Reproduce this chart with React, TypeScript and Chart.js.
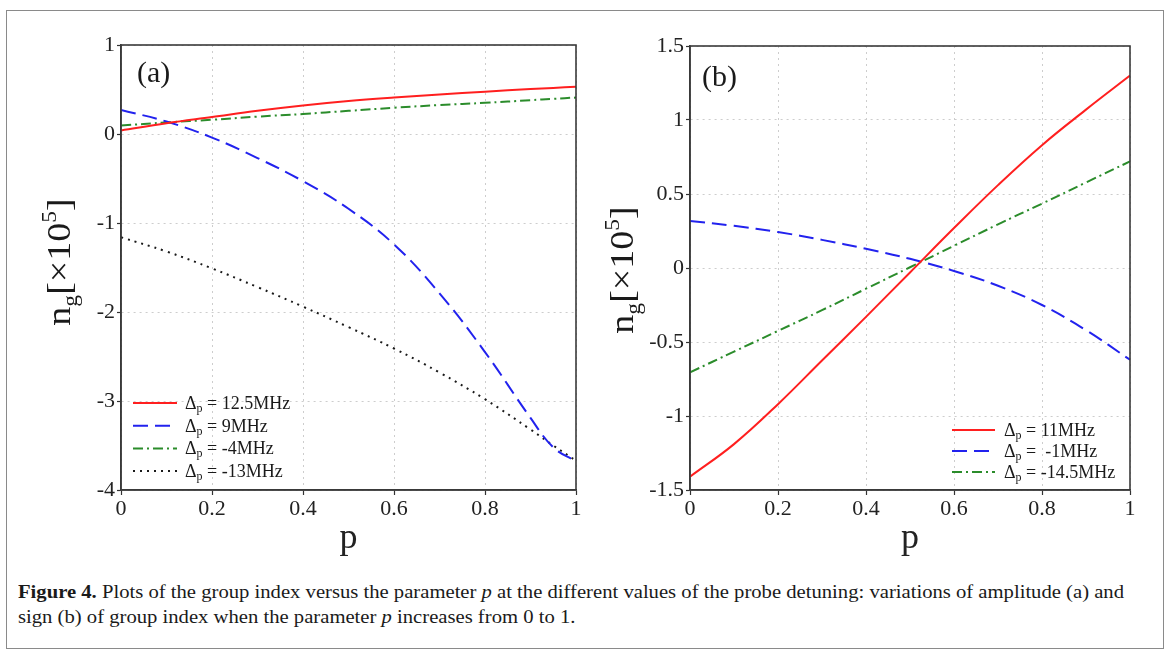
import React, { useEffect, useLayoutEffect, useRef } from "react";
import { Chart, registerables } from "chart.js";

Chart.register(...registerables);

// ---------------- data ----------------
const pA = [0, 0.1, 0.2, 0.3, 0.4, 0.5, 0.6, 0.7, 0.8, 0.9, 0.95, 1];
const redA = [0.04, 0.12, 0.19, 0.26, 0.32, 0.37, 0.41, 0.445, 0.475, 0.505, 0.518, 0.53];
const blueA = [0.27, 0.14, -0.04, -0.27, -0.53, -0.84, -1.24, -1.79, -2.45, -3.19, -3.52, -3.68];
const greenA = [0.095, 0.13, 0.16, 0.195, 0.225, 0.26, 0.295, 0.325, 0.35, 0.38, 0.395, 0.41];
const blackA = [-1.16, -1.32, -1.51, -1.72, -1.94, -2.17, -2.41, -2.68, -2.98, -3.32, -3.5, -3.67];
const detA = ["12.5MHz", "9MHz", "-4MHz", "-13MHz"];

const pB = [0, 0.1, 0.2, 0.3, 0.4, 0.5, 0.6, 0.7, 0.8, 0.9, 1];
const redB = [-1.41, -1.19, -0.92, -0.625, -0.33, -0.03, 0.27, 0.56, 0.83, 1.07, 1.3];
const blueB = [0.318, 0.285, 0.243, 0.19, 0.13, 0.062, -0.02, -0.12, -0.25, -0.42, -0.62];
const greenB = [-0.705, -0.565, -0.425, -0.285, -0.14, 0.005, 0.15, 0.295, 0.435, 0.578, 0.72];
const detB = ["11MHz", " -1MHz", "-14.5MHz"];

const xTicks = [0, 0.2, 0.4, 0.6, 0.8, 1];
const xTickLabels = ["0", "0.2", "0.4", "0.6", "0.8", "1"];
const yTicksA = [-4, -3, -2, -1, 0, 1];
const yTickLabelsA = ["-4", "-3", "-2", "-1", "0", "1"];
const yTicksB = [-1.5, -1, -0.5, 0, 0.5, 1, 1.5];
const yTickLabelsB = ["-1.5", "-1", "-0.5", "0", "0.5", "1", "1.5"];

// ---------------- styles ----------------
const FONT = '"Liberation Serif", "Times New Roman", serif';
const RED = "#ff1f1f";
const BLUE = "#2222ee";
const GREEN = "#2b8c2b";
const BLACK = "#1a1a1a";
const DASH_SOLID: number[] = [];
const DASH_LONG = [15, 7];
const DASH_DOT = [10, 4, 2, 4];
const DASH_DOTTED = [2, 5];

const decorPlugin = {
  id: "decor",
  afterDatasetsDraw(chart: any, _args: any, o: any) {
    const { ctx, chartArea: a } = chart;
    ctx.save();
    // frame
    ctx.strokeStyle = "#3a3a3a";
    ctx.lineWidth = 1.6;
    ctx.setLineDash([]);
    ctx.strokeRect(a.left, a.top, a.right - a.left, a.bottom - a.top);

    // panel label
    ctx.fillStyle = "#1a1a1a";
    ctx.font = `30px ${FONT}`;
    ctx.textBaseline = "middle";
    ctx.textAlign = "left";
    ctx.fillText(o.panel, a.left + o.panelDx, a.top + o.panelDy);

    // legend
    chart.data.datasets.forEach((ds: any, i: number) => {
      const y = a.bottom + o.legDy + i * o.rowH;
      const x0 = a.left + o.legDx;
      ctx.save();
      ctx.strokeStyle = ds.borderColor;
      ctx.lineWidth = ds.borderWidth;
      ctx.setLineDash(ds.borderDash || []);
      ctx.beginPath();
      ctx.moveTo(x0, y);
      ctx.lineTo(x0 + o.lineLen, y);
      ctx.stroke();
      ctx.restore();
      const label: string = ds.label;
      let tx = x0 + o.textGap;
      ctx.fillStyle = "#1a1a1a";
      ctx.textBaseline = "alphabetic";
      const base = y + 6;
      ctx.font = `18px ${FONT}`;
      ctx.fillText(label.charAt(0), tx, base);
      tx += ctx.measureText(label.charAt(0)).width;
      ctx.font = `12px ${FONT}`;
      ctx.fillText(label.charAt(1), tx, base + 3);
      tx += ctx.measureText(label.charAt(1)).width;
      ctx.font = `18px ${FONT}`;
      ctx.fillText(label.slice(2), tx, base);
    });

    // y axis title  n_g[×10^5]
    const S = o.titleSize;
    const parts = [
      { t: "n", s: S, dy: 0 },
      { t: "g", s: S * 0.62, dy: S * 0.2 },
      { t: "[×10", s: S, dy: 0 },
      { t: "5", s: S * 0.62, dy: -S * 0.42 },
      { t: "]", s: S, dy: 0 },
    ];
    ctx.translate(o.titleX, o.titleY);
    ctx.rotate(-Math.PI / 2);
    ctx.scale(1, 0.88);
    let total = 0;
    const widths = parts.map((p) => {
      ctx.font = `${p.s}px ${FONT}`;
      const w = ctx.measureText(p.t).width;
      total += w;
      return w;
    });
    let x = -total / 2;
    ctx.textBaseline = "alphabetic";
    parts.forEach((p, i) => {
      ctx.font = `${p.s}px ${FONT}`;
      ctx.fillText(p.t, x, p.dy);
      x += widths[i];
    });
    ctx.restore();
  },
};

type Series = { label: string; data: number[]; color: string; dash: number[] };

function makeConfig(
  p: number[],
  series: Series[],
  yTicks: number[],
  yLabels: string[],
  geom: any,
  decor: any
): any {
  return {
    type: "line",
    data: {
      datasets: series.map((s) => ({
        label: s.label,
        data: p.map((x, i) => ({ x, y: s.data[i] })),
        borderColor: s.color,
        borderDash: s.dash,
        borderWidth: 2,
        borderCapStyle: "butt",
        pointRadius: 0,
        fill: false,
        tension: 0.4,
      })),
    },
    options: {
      animation: false,
      responsive: false,
      events: [],
      layout: { padding: { left: geom.padL, right: geom.padR, top: geom.padT, bottom: geom.padB } },
      plugins: { legend: { display: false }, tooltip: { enabled: false }, decor },
      scales: {
        x: {
          type: "linear",
          min: 0,
          max: 1,
          afterBuildTicks: (s: any) => {
            s.ticks = xTicks.map((v) => ({ value: v }));
          },
          afterFit: (s: any) => {
            s.height = geom.xH;
          },
          ticks: {
            font: { family: FONT, size: 22 },
            color: "#222",
            padding: 1,
            maxRotation: 0,
            autoSkip: false,
            callback: (v: number) => xTickLabels[xTicks.indexOf(v)] ?? String(v),
          },
          grid: { color: "#cdcdcd", lineWidth: 1, tickColor: "#333", tickLength: 5, tickWidth: 1.2, tickBorderDash: [] },
          border: { display: true, color: "#3a3a3a", width: 1.6, dash: [2, 4] },
          title: { display: true, text: "p", font: { family: FONT, size: 36 }, color: "#222", padding: 0 },
        },
        y: {
          type: "linear",
          min: yTicks[0],
          max: yTicks[yTicks.length - 1],
          afterBuildTicks: (s: any) => {
            s.ticks = yTicks.map((v) => ({ value: v }));
          },
          afterFit: (s: any) => {
            s.width = geom.yW;
          },
          ticks: {
            font: { family: FONT, size: 22 },
            color: "#222",
            padding: 2,
            autoSkip: false,
            callback: (v: number) => yLabels[yTicks.indexOf(v)] ?? String(v),
          },
          grid: { color: "#cdcdcd", lineWidth: 1, tickColor: "#333", tickLength: 4, tickWidth: 1.2, tickBorderDash: [] },
          border: { display: true, color: "#3a3a3a", width: 1.6, dash: [2, 4] },
        },
      },
    },
    plugins: [decorPlugin],
  };
}

function Panel({ config, left, width, height }: { config: () => any; left: number; width: number; height: number }) {
  const ref = useRef<HTMLCanvasElement>(null);
  useEffect(() => {
    const c = new Chart(ref.current as HTMLCanvasElement, config());
    return () => c.destroy();
  }, []);
  return (
    <canvas
      ref={ref}
      width={width}
      height={height}
      style={{ position: "absolute", left, top: 0, width, height }}
    />
  );
}

const configA = () =>
  makeConfig(
    pA,
    [
      { label: `Δp = ${detA[0]}`, data: redA, color: RED, dash: DASH_SOLID },
      { label: `Δp = ${detA[1]}`, data: blueA, color: BLUE, dash: DASH_LONG },
      { label: `Δp = ${detA[2]}`, data: greenA, color: GREEN, dash: DASH_DOT },
      { label: `Δp = ${detA[3]}`, data: blackA, color: BLACK, dash: DASH_DOTTED },
    ],
    yTicksA,
    yTickLabelsA,
    { padL: 81, yW: 40, padR: 24, padT: 45, padB: 20, xH: 70 },
    {
      panel: "(a)",
      panelDx: 16,
      panelDy: 29,
      legDx: 12,
      legDy: -87,
      rowH: 22.7,
      lineLen: 44,
      textGap: 52,
      titleX: 70,
      titleY: 262,
      titleSize: 38,
    }
  );

const configB = () =>
  makeConfig(
    pB,
    [
      { label: `Δp = ${detB[0]}`, data: redB, color: RED, dash: DASH_SOLID },
      { label: `Δp = ${detB[1]}`, data: blueB, color: BLUE, dash: DASH_LONG },
      { label: `Δp = ${detB[2]}`, data: greenB, color: GREEN, dash: DASH_DOT },
    ],
    yTicksB,
    yTickLabelsB,
    { padL: 52, yW: 48, padR: 38, padT: 46, padB: 20, xH: 70 },
    {
      panel: "(b)",
      panelDx: 12,
      panelDy: 32,
      legDx: 262,
      legDy: -60,
      rowH: 21,
      lineLen: 43,
      textGap: 52,
      titleX: 43,
      titleY: 270,
      titleSize: 38,
    }
  );

function Caption() {
  const box = useRef<HTMLDivElement>(null);
  const line1 = useRef<HTMLSpanElement>(null);
  useLayoutEffect(() => {
    if (!box.current || !line1.current) return;
    const w = line1.current.getBoundingClientRect().width;
    if (w > 0) box.current.style.transform = `scaleX(${1106 / w})`;
  }, []);
  return (
    <div
      ref={box}
      style={{
        position: "absolute",
        left: 18,
        top: 580,
        fontSize: 18,
        lineHeight: "25px",
        whiteSpace: "nowrap",
        transformOrigin: "left top",
        color: "#1a1a1a",
        fontFamily: FONT,
      }}
    >
      <span ref={line1}>
        <b>Figure 4.</b> Plots of the group index versus the parameter <i>p</i> at the different values of the probe
        detuning: variations of amplitude (a) and
      </span>
      <br />
      <span>
        sign (b) of group index when the parameter <i>p</i> increases from 0 to 1.
      </span>
    </div>
  );
}

export default function App() {
  return (
    <div
      style={{
        position: "absolute",
        left: 0,
        top: 0,
        width: 1168,
        height: 653,
        background: "#fff",
        overflow: "hidden",
        fontFamily: FONT,
      }}
    >
      <div
        style={{
          position: "absolute",
          left: 6,
          top: 10,
          width: 1156,
          height: 637,
          border: "1px solid #8a8a8a",
        }}
      />
      <Panel config={configA} left={0} width={600} height={580} />
      <Panel config={configB} left={590} width={578} height={580} />
      <Caption />
    </div>
  );
}
